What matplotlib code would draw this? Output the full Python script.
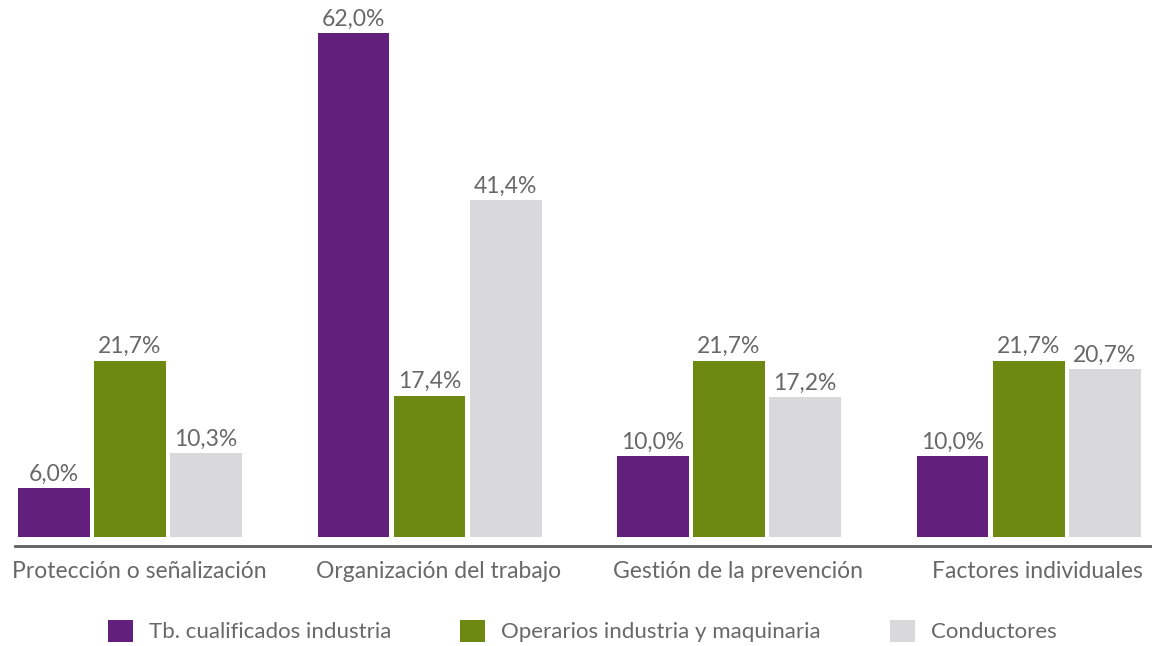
import numpy as np
import matplotlib.pyplot as plt

categories = ['Protección o señalización', 'Organización del trabajo',
              'Gestión de la prevención', 'Factores individuales']
series_names = ['Tb. cualificados industria', 'Operarios industria y maquinaria',
                'Conductores']
tb_cualificados = [6.0, 62.0, 10.0, 10.0]
operarios = [21.7, 17.4, 21.7, 21.7]
conductores = [10.3, 41.4, 17.2, 20.7]

colors = ['#621f7c', '#6e8912', '#d9d9db']
text_color = '#686868'
font = ['Lato', 'DejaVu Sans']

fig = plt.figure(figsize=(11.52, 6.46), dpi=100)
ax = fig.add_axes([0.013, 0.155, 0.987, 0.814])

x = np.arange(len(categories))
width = 0.240
step = 0.254
series = [tb_cualificados, operarios, conductores]

for k, (vals, name, c) in enumerate(zip(series, series_names, colors)):
    pos = x + (k - 1) * step
    bars = ax.bar(pos, vals, width, color=c, label=name, linewidth=0)
    for b, v in zip(bars, vals):
        ax.text(b.get_x() + b.get_width() / 2, v + 0.4,
                f'{v:.1f}%'.replace('.', ','), ha='center', va='bottom',
                fontsize=16.5, color=text_color, family=font)

ax.set_xlim(-0.384, 3.412)
ax.set_ylim(-1.1, 63.6)

for s in ['top', 'right', 'left']:
    ax.spines[s].set_visible(False)
ax.spines['bottom'].set_color('#5f5f5f')
ax.spines['bottom'].set_linewidth(2)

ax.set_yticks([])
ax.set_xticks(x + 0.03)
ax.set_xticklabels(categories, fontsize=16.5, color=text_color, family=font)
ax.tick_params(axis='x', length=0, pad=11)

leg = fig.legend(loc='center left', bbox_to_anchor=(0.076, 0.023), ncol=3,
                 frameon=False, handlelength=1.15, handleheight=1.15,
                 handletextpad=0.7, columnspacing=3.1,
                 prop={'family': font, 'size': 16})
for t in leg.get_texts():
    t.set_color(text_color)

fig.savefig('out.png', dpi=100)
